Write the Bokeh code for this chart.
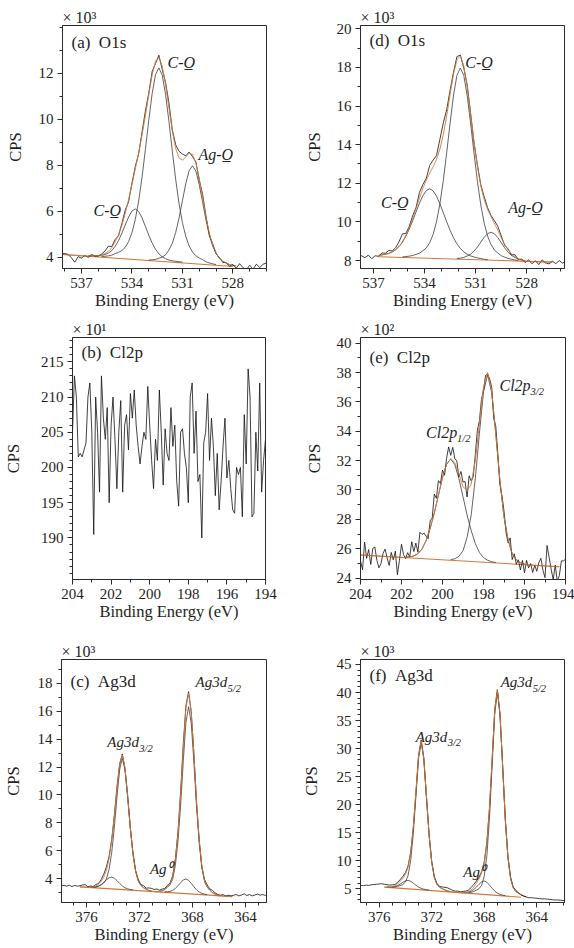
import numpy as np
from bokeh.plotting import figure
from bokeh.layouts import column, row
from bokeh.models import Range1d, Label, FixedTicker
from bokeh.embed import file_html
from bokeh.resources import INLINE

SERIF = "Liberation Serif"
AX = "#2b2b2b"
TXT = "#1e1e1e"
ORANGE = "#d2783c"
COMP = "#3c3c3c"
RAW = "#111111"
STEP = 0.2
NB = "\u00a0"

# ---------------- (a) O1s, sample 1 (y in 1e3 CPS) ----------------
a_base_x = [538.1, 528.0]
a_base_y = [4.12, 3.60]
a_c1_start = 536.6
a_c1 = [0.03, 0.04, 0.05, 0.06, 0.08, 0.13, 0.20, 0.32, 0.51, 0.77, 1.10, 1.47, 1.83, 2.10, 2.20,
        2.10, 1.83, 1.47, 1.10, 0.77, 0.51, 0.32, 0.20, 0.13, 0.08, 0.06, 0.05, 0.04, 0.03]
a_c2_start = 535.8
a_c2 = [0.03, 0.05, 0.08, 0.12, 0.20, 0.26, 0.35, 0.50, 0.76, 1.16, 1.75, 2.56, 3.61, 4.82, 6.10, 7.26, 8.10,
        8.40, 8.10, 7.26, 6.10, 4.82, 3.61, 2.56, 1.75, 1.16, 0.76, 0.50, 0.35, 0.26, 0.20, 0.12, 0.08, 0.05, 0.03]
a_c3_start = 533.0
a_c3 = [0.02, 0.04, 0.07, 0.13, 0.19, 0.30, 0.52, 0.82, 1.30, 1.94, 2.70, 3.45, 4.03, 4.25,
        4.03, 3.45, 2.70, 1.94, 1.30, 0.82, 0.52, 0.30, 0.19, 0.13, 0.07, 0.04, 0.02]
a_raw_start = 538.2
a_raw_res = [0.03, 0.05, 0.02, -0.12, -0.30, -0.05, -0.10, 0.02, -0.08, 0.05, -0.03, -0.02, 0.06, 0.10, 0.22,
             0.05, 0.10, -0.05, 0.08, 0.15, -0.10, 0.05, 0.10, -0.05, 0.12, 0.20, 0.05, 0.15, -0.10, 0.10,
             -0.15, 0.10, 0.20, 0.05, 0.15, 0.30, 0.25, 0.05, 0.05, -0.10, 0.05, -0.05, 0.15, 0.05, -0.10,
             0.05, -0.05, 0.05, -0.05, 0.02, -0.08, 0.05, -0.10, 0.12, -0.05, -0.15, 0.05, -0.12, 0.10,
             -0.05, 0.10, 0.15]
a_xticks = [537, 534, 531, 528]
a_yticks = [4, 6, 8, 10, 12]

# ---------------- (d) O1s, sample 2 (y in 1e3 CPS) ----------------
d_base_x = [536.7, 526.5]
d_base_y = [8.20, 7.92]
d_c1_start = 536.7
d_c1 = [0.07, 0.10, 0.14, 0.19, 0.27, 0.39, 0.56, 0.79, 1.10, 1.48, 1.91, 2.38, 2.84, 3.23, 3.50, 3.60,
        3.50, 3.23, 2.84, 2.38, 1.91, 1.48, 1.10, 0.79, 0.56, 0.39, 0.27, 0.19, 0.14, 0.10, 0.07, 0.04, 0.02]
d_c2_start = 535.3
d_c2 = [0.03, 0.05, 0.08, 0.12, 0.18, 0.25, 0.38, 0.53, 0.81, 1.24, 1.90, 2.84, 4.06, 5.52, 7.06, 8.49, 9.52,
        9.90, 9.52, 8.49, 7.06, 5.52, 4.06, 2.84, 1.90, 1.24, 0.81, 0.53, 0.38, 0.25, 0.18, 0.12, 0.08, 0.05, 0.03]
d_c3_start = 532.1
d_c3 = [0.03, 0.06, 0.10, 0.18, 0.28, 0.44, 0.66, 0.92, 1.18, 1.37, 1.45,
        1.37, 1.18, 0.92, 0.66, 0.44, 0.28, 0.18, 0.10, 0.06, 0.03]
d_raw_start = 537.9
d_raw_res = [0.02, 0.05, -0.05, 0.08, -0.10, 0.05, -0.05, 0.10, 0.05, 0.15, 0.05, 0.10, 0.25, 0.40, 0.10,
             0.05, 0.15, 0.05, 0.30, 0.20, 0.10, 0.40, 0.35, 0.20, 0.50, 0.60, 0.30, 0.20, 0.10, 0.15,
             0.05, -0.10, 0.10, 0.05, -0.05, 0.10, 0.05, 0.15, 0.10, 0.05, 0.15, 0.20, 0.10, -0.05, 0.05,
             -0.05, 0.10, -0.05, 0.05, -0.10, 0.08, -0.12, 0.05, -0.15, 0.10, -0.05, -0.10, 0.05, -0.08,
             0.08, -0.05, 0.05]
d_xticks = [537, 534, 531, 528]
d_yticks = [8, 10, 12, 14, 16, 18, 20]

# ---------------- (b) Cl2p, sample 1 (y in 1e1 CPS) ----------------
b_raw_start = 204.0
b_raw = [205, 213, 210, 201.5, 202, 201.5, 202.5, 203.5, 210, 212, 205, 190.5, 210, 205, 196.5, 213, 207,
         204, 208.5, 195, 206, 210, 204, 197, 205, 209.5, 196.5, 206, 207.5, 202.5, 210.5, 207, 211, 206,
         203, 200.5, 203, 205, 204, 211.5, 206, 201, 197, 204, 201, 211, 205, 197.5, 205.5, 202, 201,
         208.5, 203, 206, 198, 194.5, 205, 205.5, 202, 200, 195, 210, 212, 202, 208, 198, 199, 190,
         203.5, 205, 210.5, 201, 207, 203, 196, 202, 194, 198, 203, 207, 198.5, 201, 197, 194, 193.5,
         200, 199, 200, 193, 207.5, 200.5, 214, 210, 193, 193.5, 205, 199.5, 212, 196.5, 201, 204]
b_xticks = [204, 202, 200, 198, 196, 194]
b_yticks = [190, 195, 200, 205, 210, 215]

# ---------------- (e) Cl2p, sample 2 (y in 1e2 CPS) ----------------
e_base_x = [204.0, 194.3]
e_base_y = [25.57, 24.77]
e_c1_start = 201.8
e_c1 = [0.03, 0.07, 0.15, 0.32, 0.65, 1.25, 2.11, 3.15, 4.38, 5.61, 6.54, 6.90,
        6.54, 5.61, 4.38, 3.15, 2.11, 1.25, 0.65, 0.32, 0.15, 0.07, 0.03]
e_c2_start = 199.6
e_c2 = [0.05, 0.12, 0.30, 0.70, 1.63, 3.18, 5.65, 8.77, 11.60, 12.80,
        11.60, 8.77, 5.65, 3.18, 1.63, 0.70, 0.30, 0.12, 0.05]
e_raw_start = 204.0
e_raw_res = [-0.4, -1.0, 0.9, -0.2, 0.4, -0.6, 0.5, 0.6, -0.3, -0.8, -0.5, 0.2, 0.5, -0.1, -0.6, 0.3, -0.2,
             0.4, -1.2, -0.2, 0.9, 0.2, -0.1, 0.3, 0.0, 1.0, 0.3, 0.8, 0.1, 1.3, 1.0, 0.8, 0.3, -0.3, 0.5,
             0.2, 1.3, 0.4, 1.0, 0.2, 0.5, -0.3, 0.4, 1.0, 0.2, 0.9, 0.3, 0.5, -0.2, 0.6, 0.3, 0.5, -0.4,
             0.8, 0.2, -0.3, 0.4, 0.8, 0.2, 0.4, -0.2, 0.3, -0.1, 0.2, 0.3, -0.4, 0.5, 0.2, -0.3, 0.2, 0.4,
             -0.3, -0.2, 0.6, -0.4, 0.2, -0.3, 0.1, -0.5, 0.2, -0.6, 0.3, -0.2, 0.1, -0.5, 0.0, -0.4, 0.2,
             0.5, -0.3, -0.8, 1.4, 0.6, -0.2, -0.9, 0.1, -1.0, -0.6, 0.4, 0.4, 0.5]
e_xticks = [204, 202, 200, 198, 196, 194]
e_yticks = [24, 26, 28, 30, 32, 34, 36, 38, 40]

# ---------------- (c) Ag3d, sample 1 (y in 1e3 CPS) ----------------
c_base_x = [376.5, 365.0]
c_base_y = [3.42, 2.72]
c_m32_start = 375.5
c_m32 = [0.03, 0.06, 0.13, 0.23, 0.39, 0.68, 1.39, 2.60, 4.44, 6.64, 8.59, 9.40,
         8.59, 6.64, 4.44, 2.60, 1.39, 0.68, 0.39, 0.23, 0.13, 0.06, 0.03]
c_m52_start = 370.5
c_m52 = [0.05, 0.10, 0.20, 0.36, 0.57, 0.96, 1.98, 3.71, 6.32, 9.47, 12.25, 13.40,
         12.25, 9.47, 6.32, 3.71, 1.98, 0.96, 0.57, 0.36, 0.20, 0.10, 0.05]
c_a32_start = 375.7
c_a32 = [0.03, 0.04, 0.08, 0.14, 0.26, 0.43, 0.62, 0.78, 0.85, 0.78, 0.62, 0.43, 0.26, 0.14, 0.08, 0.04, 0.03]
c_a52_start = 370.1
c_a52 = [0.03, 0.05, 0.09, 0.18, 0.32, 0.53, 0.76, 0.97, 1.05, 0.97, 0.76, 0.53, 0.32, 0.18, 0.09, 0.05, 0.03]
c_raw_start = 377.9
c_raw_res = [0.08, 0.10, 0.05, 0.12, 0.02, 0.10, 0.05, 0.08, 0.15, 0.18, 0.05, 0.08, 0.02, 0.10, 0.05,
             0.12, 0.20, 0.25, 0.15, 0.10, 0.05, 0.10, -0.05, 0.05, -0.05, 0.10, 0.05, 0.10, 0.05, 0.12,
             0.05, 0.15, 0.08, 0.18, 0.22, 0.15, 0.20, 0.08, 0.12, 0.05, 0.10, 0.02, 0.08, 0.12, 0.15,
             0.20, 0.25, 0.15, 0.10, 0.05, 0.10, -0.05, 0.05, -0.10, 0.10, 0.15, 0.10, 0.15, 0.10, 0.08,
             0.05, 0.10, 0.02, 0.08, 0.05, 0.10, 0.15, 0.05, 0.12, 0.20, 0.08, 0.15, 0.05, 0.12, 0.18,
             0.10, 0.15, 0.08, 0.20]
c_xticks = [376, 372, 368, 364]
c_yticks = [4, 6, 8, 10, 12, 14, 16, 18]

# ---------------- (f) Ag3d, sample 2 (y in 1e3 CPS) ----------------
f_base_x = [375.6, 365.2]
f_base_y = [5.30, 3.50]
f_m32_start = 375.0
f_m32 = [0.06, 0.15, 0.30, 0.48, 0.69, 1.17, 2.37, 5.05, 9.91, 16.71, 23.37, 26.30,
         23.37, 16.71, 9.91, 5.05, 2.37, 1.17, 0.69, 0.48, 0.30, 0.15, 0.06]
f_m52_start = 369.2
f_m52 = [0.08, 0.20, 0.40, 0.67, 0.95, 1.61, 3.27, 6.97, 13.68, 23.06, 32.25, 36.30,
         32.25, 23.06, 13.68, 6.97, 3.27, 1.61, 0.95, 0.67, 0.40, 0.20, 0.08]
f_a32_start = 375.4
f_a32 = [0.05, 0.08, 0.14, 0.25, 0.46, 0.75, 1.09, 1.38, 1.50, 1.38, 1.09, 0.75, 0.46, 0.25, 0.14, 0.08, 0.05]
f_a52_start = 369.6
f_a52 = [0.07, 0.12, 0.22, 0.41, 0.73, 1.20, 1.74, 2.21, 2.40, 2.21, 1.74, 1.20, 0.73, 0.41, 0.22, 0.12, 0.07]
f_raw_start = 377.6
f_raw_res = [0.30, 0.30, 0.25, 0.35, 0.30, 0.40, 0.45, 0.50, 0.55, 0.60, 0.50, 0.45, 0.35, 0.30, 0.20,
             0.25, 0.30, 0.35, 0.30, 0.20, 0.10, 0.00, -0.20, 0.10, 0.20, 0.00, -0.20, 0.10, 0.20, 0.15,
             0.20, 0.15, 0.30, 0.45, 0.55, 0.45, 0.30, 0.20, 0.25, 0.15, 0.20, 0.25, 0.35, 0.45, 0.50,
             0.40, 0.30, 0.20, 0.10, 0.20, 0.10, -0.20, 0.20, 0.00, -0.20, 0.20, 0.30, 0.20, 0.25, 0.15,
             0.20, 0.10, 0.05, 0.00, -0.05, -0.10, -0.10, -0.15, -0.20, -0.25, -0.30, -0.30, -0.35, -0.40,
             -0.45, -0.50, -0.50, -0.55, -0.60, -0.60]
f_xticks = [376, 372, 368, 364]
f_yticks = [5, 10, 15, 20, 25, 30, 35, 40, 45]


# ---------------- helpers ----------------
def base_at(bx, by, x):
    return np.interp(x, bx[::-1], by[::-1])


def comp_x(start, vals, step=STEP):
    return start - step * np.arange(len(vals))


def comp_at(start, vals, x):
    cx = comp_x(start, vals)
    return np.interp(x, cx[::-1], np.asarray(vals, float)[::-1], left=0.0, right=0.0)


def make_fig(width, height, bl, br, bt, bb, xr, yr, xticks, yticks, xminor, yminor, ystand, mult):
    p = figure(width=width, height=height, x_range=Range1d(*xr), y_range=Range1d(*yr),
               output_backend="svg", toolbar_location=None, tools="",
               min_border_left=bl, min_border_right=br, min_border_top=bt, min_border_bottom=bb,
               title=mult)
    p.title.text_font = SERIF
    p.title.text_font_size = "16px"
    p.title.text_font_style = "normal"
    p.title.text_color = TXT
    p.title.align = "left"
    p.title.standoff = 0
    p.title.offset = 0
    p.xgrid.visible = False
    p.ygrid.visible = False
    p.outline_line_color = AX
    p.outline_line_width = 1
    p.background_fill_color = "white"
    p.border_fill_color = "white"
    p.xaxis.ticker = FixedTicker(ticks=xticks, minor_ticks=xminor)
    p.yaxis.ticker = FixedTicker(ticks=yticks, minor_ticks=yminor)
    for ax in (p.xaxis[0], p.yaxis[0]):
        ax.axis_line_color = AX
        ax.major_tick_line_color = AX
        ax.minor_tick_line_color = AX
        ax.major_tick_in = 0
        ax.major_tick_out = 5
        ax.minor_tick_in = 0
        ax.minor_tick_out = 3
        ax.major_label_text_font = SERIF
        ax.major_label_text_font_size = "15px"
        ax.major_label_text_color = TXT
        ax.axis_label_text_font = SERIF
        ax.axis_label_text_font_size = "16.5px"
        ax.axis_label_text_font_style = "normal"
        ax.axis_label_text_color = TXT
        ax.major_label_standoff = 4
    p.xaxis.axis_label = "Binding Energy (eV)"
    p.yaxis.axis_label = "CPS"
    p.xaxis.axis_label_standoff = 0
    p.yaxis.axis_label_standoff = ystand
    return p


def lab(p, x, y, text, size="16px", style="normal", align="center", baseline="middle", xo=0, yo=0):
    p.add_layout(Label(x=x, y=y, text=text, text_font=SERIF, text_font_size=size,
                       text_font_style=style, text_align=align, text_baseline=baseline,
                       x_offset=xo, y_offset=yo, text_color=TXT))


def panel_title(p, xr, yr, title, ty):
    lab(p, xr[0], yr[1], title, size="17px", align="left", baseline="top", xo=9, yo=ty)


def draw_fit(p, bx, by, comps, raw_start, raw_res, raw_step=STEP):
    p.line(bx, by, line_color=ORANGE, line_width=1.1)
    for start, vals in comps:
        cx = comp_x(start, vals)
        p.line(cx, base_at(bx, by, cx) + np.asarray(vals, float), line_color=COMP, line_width=0.8)
    rx = raw_start - raw_step * np.arange(len(raw_res))
    env_r = base_at(bx, by, rx) + sum(comp_at(s, v, rx) for s, v in comps)
    p.line(rx, env_r + np.asarray(raw_res, float), line_color=RAW, line_width=0.8)
    xf = np.linspace(bx[0], bx[1], 600)
    env = base_at(bx, by, xf) + sum(comp_at(s, v, xf) for s, v in comps)
    p.line(xf, env, line_color=ORANGE, line_width=1.0)


def sub_label(p, x, y, main, sub, size="16px", sub_size="10.5px", sub_dx=30, sub_dy=-6):
    lab(p, x, y, main, size=size, style="italic", align="left", baseline="middle")
    lab(p, x, y, sub, size=sub_size, style="italic", align="left", baseline="middle", xo=sub_dx, yo=sub_dy)


UL = "\u0332"
T3, T2, T1 = "\u00d7 10\u00b3", "\u00d7 10\u00b2", "\u00d7 10\u00b9"

# ---------------- panel (a) ----------------
a_xr, a_yr = (538.13, 526.0), (3.51, 14.07)
pa = make_fig(287, 314, 62, 21, 25, 46, a_xr, a_yr, a_xticks, a_yticks,
              list(range(526, 539)), list(range(4, 15)), 11, T3)
draw_fit(pa, a_base_x, a_base_y, [(a_c1_start, a_c1), (a_c2_start, a_c2), (a_c3_start, a_c3)],
         a_raw_start, a_raw_res)
panel_title(pa, a_xr, a_yr, "(a)" + NB + NB + "O1s", -7)
lab(pa, 535.47, 6.03, "C-O" + UL, style="italic")
lab(pa, 531.06, 12.48, "C-O" + UL, style="italic")
lab(pa, 529.02, 8.47, "Ag-O" + UL, style="italic")

# ---------------- panel (d) ----------------
d_xr, d_yr = (537.76, 525.79), (7.59, 20.17)
pdd = make_fig(287, 314, 73, 10, 25, 46, d_xr, d_yr, d_xticks, d_yticks,
               list(range(526, 538)), list(range(8, 21)), 10, T3)
draw_fit(pdd, d_base_x, d_base_y, [(d_c1_start, d_c1), (d_c2_start, d_c2), (d_c3_start, d_c3)],
         d_raw_start, d_raw_res)
panel_title(pdd, d_xr, d_yr, "(d)" + NB + NB + "O1s", -5)
lab(pdd, 535.75, 11.02, "C-O" + UL, style="italic")
lab(pdd, 530.8, 18.27, "C-O" + UL, style="italic")
lab(pdd, 528.08, 10.76, "Ag-O" + UL, style="italic")

# ---------------- panel (b) ----------------
b_xr, b_yr = (204.0, 194.0), (184.1, 218.45)
pb = make_fig(287, 326, 69, 22, 23, 57, b_xr, b_yr, b_xticks, b_yticks,
              list(range(194, 205)), list(range(185, 219)), 15, T1)
bx = b_raw_start - 0.1 * np.arange(len(b_raw))
pb.line(bx, b_raw, line_color=RAW, line_width=0.8)
panel_title(pb, b_xr, b_yr, "(b)" + NB + NB + "Cl2p", -5)

# ---------------- panel (e) ----------------
e_xr, e_yr = (204.0, 194.0), (23.9, 40.39)
pe = make_fig(287, 326, 73, 9, 23, 61, e_xr, e_yr, e_xticks, e_yticks,
              list(range(194, 205)), list(range(24, 41)), 10, T2)
draw_fit(pe, e_base_x, e_base_y, [(e_c1_start, e_c1), (e_c2_start, e_c2)],
         e_raw_start, e_raw_res, raw_step=0.1)
panel_title(pe, e_xr, e_yr, "(e)" + NB + NB + "Cl2p", -10)
sub_label(pe, 200.8, 33.93, "Cl2p", "1/2", sub_dx=31)
sub_label(pe, 197.22, 37.11, "Cl2p", "3/2", sub_dx=31)

# ---------------- panel (c) ----------------
c_xr, c_yr = (377.89, 362.42), (2.30, 19.70)
pc = make_fig(287, 308, 61, 21, 19, 46, c_xr, c_yr, c_xticks, c_yticks,
              list(range(363, 378)), list(range(3, 20)), 12, T3)
draw_fit(pc, c_base_x, c_base_y, [(c_m32_start, c_m32), (c_m52_start, c_m52),
                                  (c_a32_start, c_a32), (c_a52_start, c_a52)],
         c_raw_start, c_raw_res)
panel_title(pc, c_xr, c_yr, "(c)" + NB + NB + "Ag3d", -12)
sub_label(pc, 374.43, 13.78, "Ag3d", "3/2", size="15px", sub_dx=32)
sub_label(pc, 367.77, 18.07, "Ag3d", "5/2", size="15px", sub_dx=32)
lab(pc, 370.4, 4.72, "Ag\u2070", size="15px", style="italic")

# ---------------- panel (f) ----------------
f_xr, f_yr = (377.42, 361.89), (2.55, 45.89)
pf = make_fig(287, 308, 73, 10, 19, 46, f_xr, f_yr, f_xticks, f_yticks,
              list(range(362, 378)), list(range(3, 46)), 13, T3)
draw_fit(pf, f_base_x, f_base_y, [(f_m32_start, f_m32), (f_m52_start, f_m52),
                                  (f_a32_start, f_a32), (f_a52_start, f_a52)],
         f_raw_start, f_raw_res)
panel_title(pf, f_xr, f_yr, "(f)" + NB + NB + "Ag3d", -6)
sub_label(pf, 373.22, 32.15, "Ag3d", "3/2", size="15px", sub_dx=32)
sub_label(pf, 366.75, 41.83, "Ag3d", "5/2", size="15px", sub_dx=32)
lab(pf, 368.77, 7.96, "Ag\u2070", size="15px", style="italic")

layout = column(row(pa, pdd), row(pb, pe), row(pc, pf))
open("out.html", "w").write(file_html(layout, INLINE))
